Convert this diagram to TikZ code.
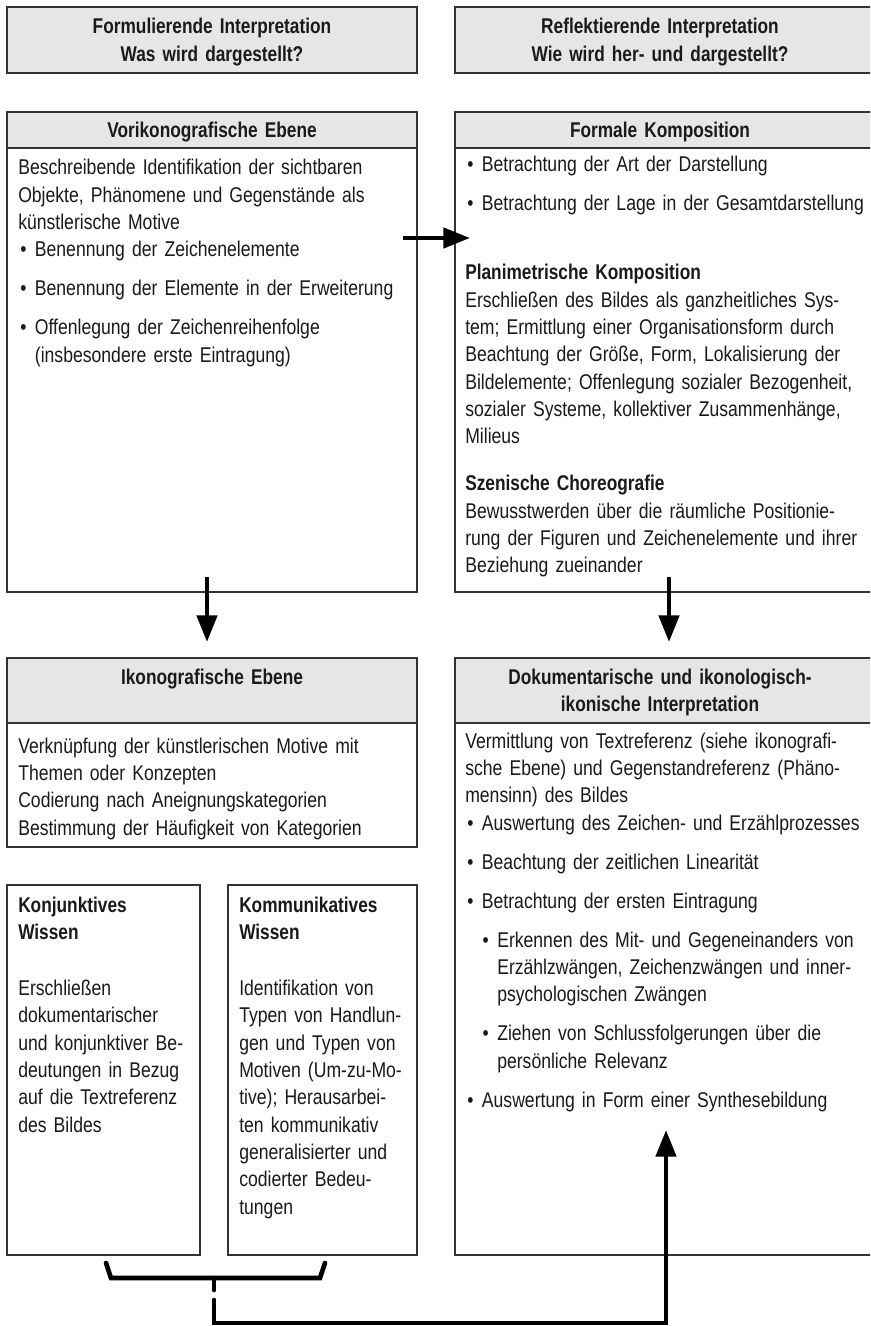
\documentclass[tikz,border=0pt]{standalone}
\usepackage{fontspec}
\setmainfont{Liberation Sans}[FakeStretch=0.825]
\newfontfamily\headf{Liberation Sans}[FakeStretch=0.81]
\usetikzlibrary{arrows.meta}

\definecolor{ink}{HTML}{1A1A1A}
\definecolor{edge}{HTML}{333333}
\definecolor{barfill}{HTML}{E6E6E6}

% text size and line spacing used throughout
\newcommand\bodysize{\fontsize{16pt}{20.5pt}\selectfont}
% bold heading inside a text block
\newcommand\hdg[1]{{\headf\bfseries #1}}
% bullet items, first and second level, with hanging indents
\newcommand\bul{\hspace*{1.5pt}\makebox[11pt][l]{\textbullet}}
\newcommand\indl{\hspace*{12.5pt}}
\newcommand\subbul{\hspace*{13pt}\makebox[11pt][l]{\textbullet}}
\newcommand\subind{\hspace*{24pt}}
\newcommand\gap{8.75pt}

\tikzset{
  frame/.style={draw=edge, line width=1.1pt, fill=white, inner sep=0pt, outer sep=0pt, anchor=north west},
  titlebar/.style={frame, fill=barfill},
  bodytext/.style={anchor=base west, inner sep=0pt, align=left, text width=310pt, font=\bodysize, text=ink},
  headtext/.style={anchor=base, inner sep=0pt, align=center, text width=300pt, font=\bodysize\headf\bfseries, text=ink},
  arr/.style={draw=black, line width=3.5pt, -{Triangle[length=20pt,width=15pt]}},
  bracket/.style={draw=black, line width=3.5pt, line cap=round},
}

\begin{document}
\begin{tikzpicture}[x=0.75pt, y=-0.75pt]
\useasboundingbox (0,0) rectangle (870,1326);
\clip (0,0) rectangle (870,1326);
\fill[white] (0,0) rectangle (870,1326);

% column headers
\node[titlebar, minimum width=307.5pt, minimum height=49.5pt] (hdL) at (7,7) {};
\node[titlebar, minimum width=322.5pt, minimum height=49.5pt] (hdR) at (455,7) {};
\node[headtext] (hdLt) at (212,34) {Formulierende Interpretation\\Was wird dargestellt?};
\node[headtext] (hdRt) at (660,34) {Reflektierende Interpretation\\Wie wird her- und dargestellt?};

% upper row
\node[frame, minimum width=307.5pt, minimum height=360pt] (vor) at (7,112) {};
\node[titlebar, minimum width=307.5pt, minimum height=27pt] (vorT) at (7,112) {};
\node[headtext] (vorTt) at (212,138) {Vorikonografische Ebene};

\node[frame, minimum width=322.5pt, minimum height=360pt] (for) at (455,112) {};
\node[titlebar, minimum width=322.5pt, minimum height=27pt] (forT) at (455,112) {};
\node[headtext] (forTt) at (660,138) {Formale Komposition};

\node[bodytext] (vorB) at (18,175) {Beschreibende Identifikation der sichtbaren\\
Objekte, Phänomene und Gegenstände als\\
künstlerische Motive\\
\bul Benennung der Zeichenelemente\\[\gap]
\bul Benennung der Elemente in der Erweiterung\\[\gap]
\bul Offenlegung der Zeichenreihenfolge\\
\indl (insbesondere erste Eintragung)};

\node[bodytext] (forB) at (465,172) {\bul Betrachtung der Art der Darstellung\\[\gap]
\bul Betrachtung der Lage in der Gesamtdarstellung\\[31.25pt]
\hdg{Planimetrische Komposition}\\
Erschließen des Bildes als ganzheitliches Sys-\\
tem; Ermittlung einer Organisationsform durch\\
Beachtung der Größe, Form, Lokalisierung der\\
Bildelemente; Offenlegung sozialer Bezogenheit,\\
sozialer Systeme, kollektiver Zusammenhänge,\\
Milieus\\[14.75pt]
\hdg{Szenische Choreografie}\\
Bewusstwerden über die räumliche Positionie-\\
rung der Figuren und Zeichenelemente und ihrer\\
Beziehung zueinander};

% lower row
\node[frame, minimum width=307.5pt, minimum height=141.75pt] (ikon) at (7,658) {};
\node[titlebar, minimum width=307.5pt, minimum height=48.75pt] (ikonT) at (7,658) {};
\node[headtext] (ikonTt) at (212,684) {Ikonografische Ebene};

\node[frame, minimum width=322.5pt, minimum height=447.75pt] (dok) at (455,658) {};
\node[titlebar, minimum width=322.5pt, minimum height=48.75pt] (dokT) at (455,658) {};
\node[headtext] (dokTt) at (660,684) {Dokumentarische und ikonologisch-\\ikonische Interpretation};

\node[bodytext] (ikonB) at (18,753) {Verknüpfung der künstlerischen Motive mit\\
Themen oder Konzepten\\
Codierung nach Aneignungskategorien\\
Bestimmung der Häufigkeit von Kategorien};

\node[bodytext] (dokB) at (465,748) {Vermittlung von Textreferenz (siehe ikonografi-\\
sche Ebene) und Gegenstandreferenz (Phäno-\\
mensinn) des Bildes\\
\bul Auswertung des Zeichen- und Erzählprozesses\\[\gap]
\bul Beachtung der zeitlichen Linearität\\[\gap]
\bul Betrachtung der ersten Eintragung\\[\gap]
\subbul Erkennen des Mit- und Gegeneinanders von\\
\subind Erzählzwängen, Zeichenzwängen und inner-\\
\subind psychologischen Zwängen\\[\gap]
\subbul Ziehen von Schlussfolgerungen über die\\
\subind persönliche Relevanz\\[\gap]
\bul Auswertung in Form einer Synthesebildung};

% knowledge boxes
\node[frame, minimum width=144.75pt, minimum height=277.5pt] (konj) at (7,885) {};
\node[frame, minimum width=141.75pt, minimum height=277.5pt] (komm) at (228,885) {};

\node[bodytext, text width=150pt] (konjB) at (18,912) {\hdg{Konjunktives}\\
\hdg{Wissen}\\[21.5pt]
Erschließen\\
dokumentarischer\\
und konjunktiver Be-\\
deutungen in Bezug\\
auf die Textreferenz\\
des Bildes};

\node[bodytext, text width=150pt] (kommB) at (239,912) {\hdg{Kommunikatives}\\
\hdg{Wissen}\\[21.5pt]
Identifikation von\\
Typen von Handlun-\\
gen und Typen von\\
Motiven (Um-zu-Mo-\\
tive); Herausarbei-\\
ten kommunikativ\\
generalisierter und\\
codierter Bedeu-\\
tungen};

% connector end points
\coordinate (vorOut) at (403,238);
\coordinate (forIn) at (470,238);
\coordinate (vorDown) at (207,577);
\coordinate (ikonIn) at (207,642);
\coordinate (forDown) at (669,577);
\coordinate (dokIn) at (669,642);
\coordinate (brA) at (106,1263);
\coordinate (brB) at (111,1278);
\coordinate (brC) at (320,1278);
\coordinate (brD) at (325,1263);
\coordinate (stemTop) at (214,1278);
\coordinate (stemEnd) at (214,1290);
\coordinate (stemLow) at (214,1300);
\coordinate (cornerR) at (666,1323);
\coordinate (dokUp) at (666,1130);

% arrows
\draw[arr] (vorOut) -- (forIn);
\draw[arr] (vorDown) -- (ikonIn);
\draw[arr] (forDown) -- (dokIn);

% bracket joining both knowledge boxes
\draw[bracket, line join=miter] (brA) -- (brB) -- (brC) -- (brD);
\draw[bracket] (stemTop) -- (stemEnd);
\draw[arr, line cap=round] (stemLow) |- (cornerR) -- (dokUp);
\end{tikzpicture}
\end{document}
